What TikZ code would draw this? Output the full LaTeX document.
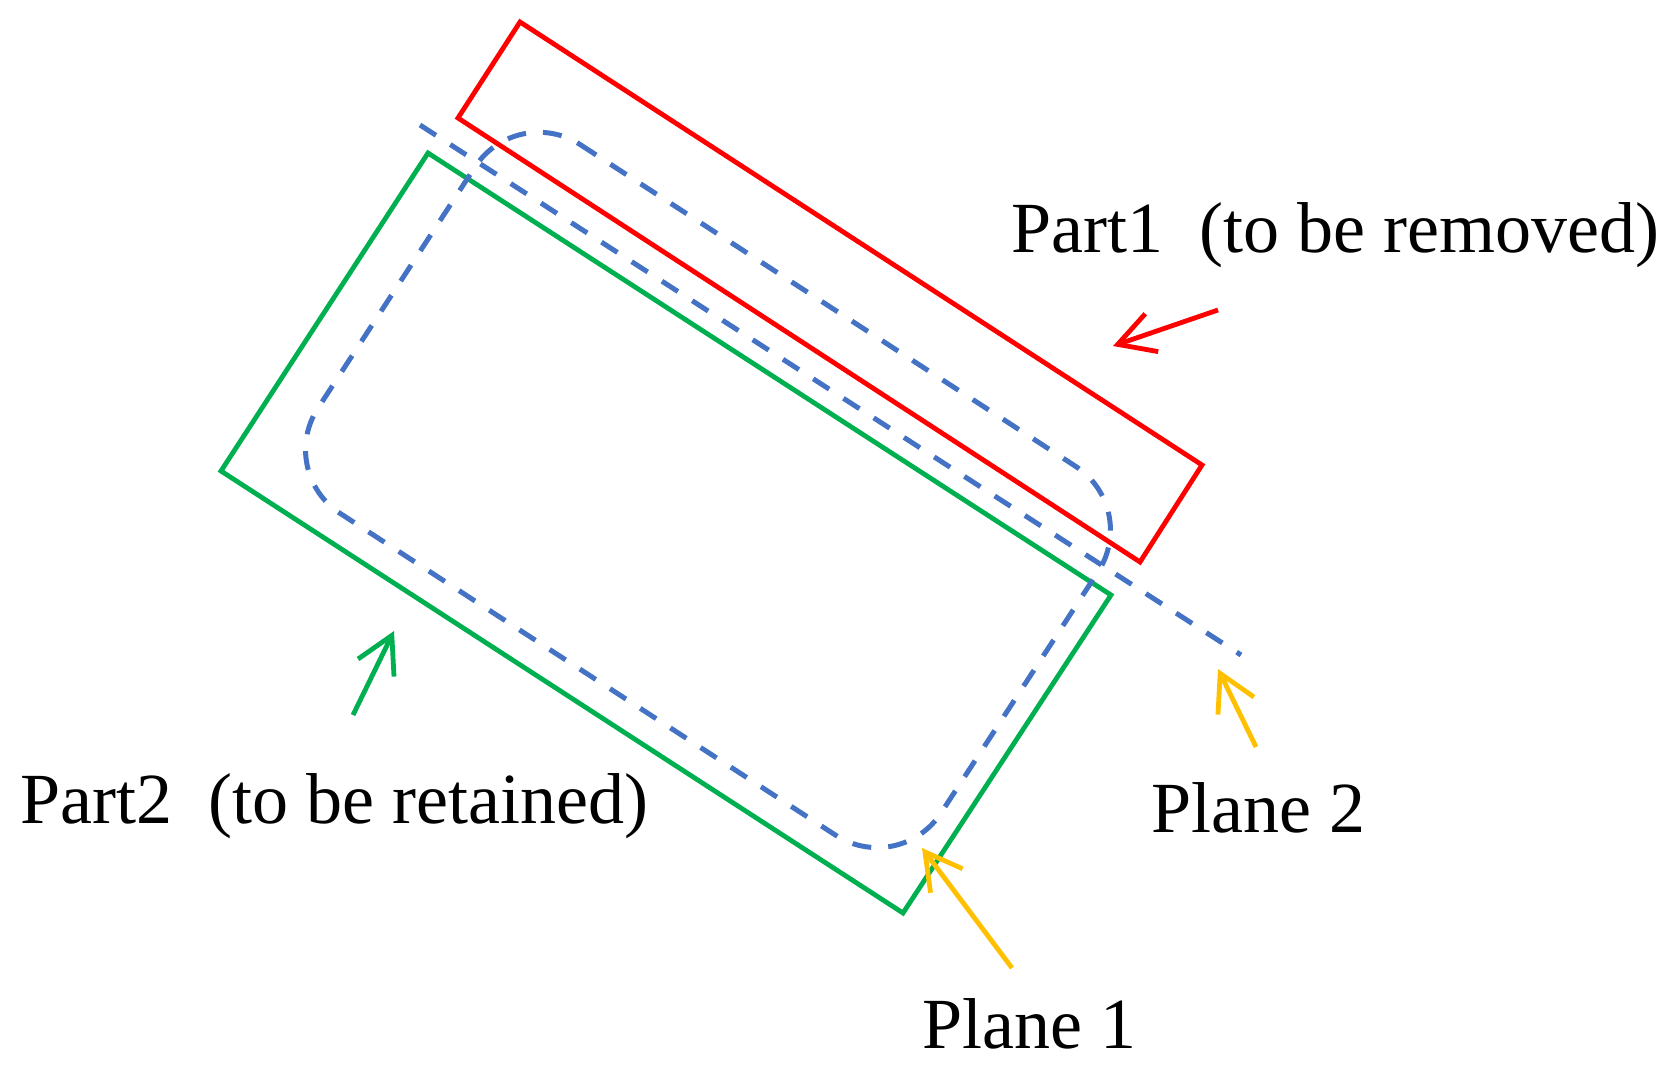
\documentclass[tikz,border=0pt]{standalone}
\usepackage{fontspec}
\setmainfont{Liberation Serif}
\usetikzlibrary{arrows.meta}
\definecolor{pRed}{RGB}{255,0,0}
\definecolor{pGreen}{RGB}{0,176,80}
\definecolor{pBlue}{RGB}{68,114,196}
\definecolor{pYellow}{RGB}{255,192,0}
\begin{document}
\begin{tikzpicture}[x=0.5pt,y=-0.5pt,
  partbox/.style={line width=2.4pt, line join=miter},
  planeline/.style={draw=pBlue, line width=2.5pt, dash pattern=on 9.5pt off 8.5pt},
  pointer/.style={line width=2.4pt, -{Straight Barb[length=18pt,width=20pt]}},
  lbl/.style={font=\fontsize{36}{43}\selectfont, inner sep=0pt, anchor=base west, text=black}]
\useasboundingbox (0,0) rectangle (1675,1079);

% Part 2 (green)
\coordinate (g1) at (428,153);
\coordinate (g2) at (1111,595);
\coordinate (g3) at (903,913);
\coordinate (g4) at (221,471);
\draw[partbox, draw=pGreen] (g1) -- (g2) -- (g3) -- (g4) -- cycle;

% Part 1 (red)
\coordinate (r1) at (520,22);
\coordinate (r2) at (1202,465);
\coordinate (r3) at (1140,562);
\coordinate (r4) at (458,118);
\draw[partbox, draw=pRed] (r1) -- (r2) -- (r3) -- (r4) -- cycle;

% Plane 1 (dashed rounded outline)
\coordinate (b1) at (516.5,103.2);
\coordinate (b2) at (1139.6,507.9);
\coordinate (b3) at (899.5,876.7);
\coordinate (b4) at (276.4,472);
\draw[planeline, rounded corners=38pt] (b1) -- (b2) -- (b3) -- (b4) -- cycle;

% Plane 2 (dashed line)
\coordinate (p2a) at (420,125);
\coordinate (p2b) at (1241,655);
\draw[planeline] (p2a) -- (p2b);

% Labels
\node[lbl] (part1) at (1011,253) {Part1\ \ (to be removed)};
\node[lbl] (part2) at (20,823) {Part2\ \ (to be retained)};
\node[lbl] (plane2) at (1151,832) {Plane 2};
\node[lbl] (plane1) at (922,1048) {Plane 1};

% Pointers
\coordinate (ra) at (1218,310);
\coordinate (rb) at (1113,346);
\draw[pointer, draw=pRed] (ra) -- (rb);
\coordinate (ga) at (353,715);
\coordinate (gb) at (394,631);
\draw[pointer, draw=pGreen] (ga) -- (gb);
\coordinate (ya) at (1256,747);
\coordinate (yb) at (1218,669);
\draw[pointer, draw=pYellow] (ya) -- (yb);
\coordinate (za) at (1012,968);
\coordinate (zb) at (922,848);
\draw[pointer, draw=pYellow] (za) -- (zb);
\end{tikzpicture}
\end{document}
